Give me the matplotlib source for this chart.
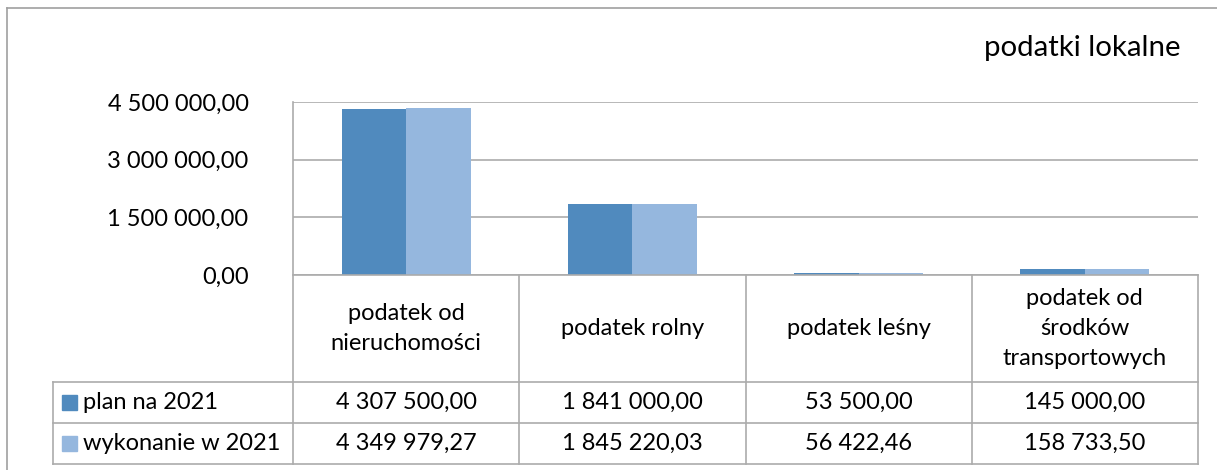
import numpy as np
import matplotlib
matplotlib.use("Agg")
import matplotlib.pyplot as plt
from matplotlib.lines import Line2D
from matplotlib.patches import Rectangle
from matplotlib.transforms import blended_transform_factory

plt.rcParams['font.family'] = ['Lato', 'DejaVu Sans']

categories = ["podatek od\nnieruchomości", "podatek rolny", "podatek leśny",
              "podatek od\nśrodków\ntransportowych"]
series_names = ["plan na 2021", "wykonanie w 2021"]
plan = [4307500.00, 1841000.00, 53500.00, 145000.00]
wykonanie = [4349979.27, 1845220.03, 56422.46, 158733.50]
yticks = [0, 1500000, 3000000, 4500000]
title = "podatki lokalne"

colors = ["#508ABE", "#95B7DE"]
grid_c = "#ABABAB"
W, H = 1217, 470
fs = 17


def fmt(v):
    s = f"{v:,.2f}"
    return s.replace(",", " ").replace(".", ",")


def fy(py):
    return 1 - py / H


def fx(px):
    return px / W


fig = plt.figure(figsize=(W / 100, H / 100), dpi=100)
ax = fig.add_axes([fx(293), fy(275), fx(1198) - fx(293), fy(102) - fy(275)])

x = np.arange(len(categories))
bw = 0.285
ax.bar(x - bw / 2, plan, bw, color=colors[0], zorder=3)
ax.bar(x + bw / 2, wykonanie, bw, color=colors[1], zorder=3)

ax.set_xlim(-0.5, len(categories) - 0.5)
ax.set_ylim(0, 4500000)
ax.set_yticks(yticks)
ax.set_yticklabels([fmt(v) for v in yticks], fontsize=fs)
ax.tick_params(axis='y', length=0, pad=32)
ax.set_xticks([])
ax.yaxis.grid(True, color=grid_c, lw=1.2, zorder=0)
for s in ["top", "right", "bottom", "left"]:
    ax.spines[s].set_visible(False)
ax.set_axisbelow(True)

fig.text(fx(1180), fy(48), title, fontsize=21.2, ha='right', va='center')

# table below the axis
tr = blended_transform_factory(ax.transData, fig.transFigure)
ft = fig.transFigure
y_axis, y_head, y_r1, y_r2 = fy(275), fy(382), fy(423), fy(464)
lw = 1.2

# axis / left line
fig.add_artist(Line2D([fx(293), fx(293)], [fy(102), y_r2], color=grid_c, lw=lw, transform=ft))
fig.add_artist(Line2D([fx(293), fx(1198)], [y_axis, y_axis], color=grid_c, lw=lw, transform=ft))
for yy in (y_head, y_r1, y_r2):
    fig.add_artist(Line2D([fx(53), fx(1198)], [yy, yy], color=grid_c, lw=lw, transform=ft))
fig.add_artist(Line2D([fx(53), fx(53)], [y_head, y_r2], color=grid_c, lw=lw, transform=ft))
for b in np.arange(0.5, len(categories), 1.0):
    fig.add_artist(Line2D([b, b], [y_axis, y_r2], color=grid_c, lw=lw, transform=tr))

for i, c in enumerate(categories):
    fig.text(i, (y_axis + y_head) / 2, c, transform=tr, ha='center', va='center',
             fontsize=fs, linespacing=1.52)
    fig.text(i, (y_head + y_r1) / 2, fmt(plan[i]), transform=tr, ha='center',
             va='center', fontsize=fs)
    fig.text(i, (y_r1 + y_r2) / 2, fmt(wykonanie[i]), transform=tr, ha='center',
             va='center', fontsize=fs)

for j, (name, yc) in enumerate(zip(series_names, [(y_head + y_r1) / 2, (y_r1 + y_r2) / 2])):
    fig.add_artist(Rectangle((fx(62), yc - 7.5 / H), 15 / W, 15 / H, color=colors[j],
                             transform=ft))
    fig.text(fx(83), yc, name, ha='left', va='center', fontsize=fs)

# outer frame
fig.add_artist(Line2D([fx(7), fx(7)], [0, fy(8)], color="#A0A0A0", lw=1.2, transform=ft))
fig.add_artist(Line2D([fx(7), 1], [fy(8), fy(8)], color="#A0A0A0", lw=1.2, transform=ft))

fig.savefig("out.png", dpi=100)
